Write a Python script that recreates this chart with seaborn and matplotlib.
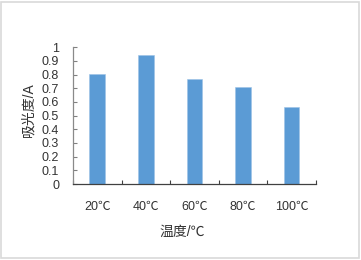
import pandas as pd
import numpy as np
import matplotlib
matplotlib.use('Agg')
import matplotlib.pyplot as plt
import seaborn as sns
from matplotlib.patches import Rectangle

temps = ['20℃', '40℃', '60℃', '80℃', '100℃']
absorb = [0.805, 0.945, 0.765, 0.71, 0.56]
yticks = [0, 0.1, 0.2, 0.3, 0.4, 0.5, 0.6, 0.7, 0.8, 0.9, 1]
ytick_labels = ['0', '0.1', '0.2', '0.3', '0.4', '0.5', '0.6', '0.7', '0.8', '0.9', '1']

sns.set_style('white')
plt.rcParams['font.family'] = ['Liberation Sans', 'Noto Sans CJK SC', 'DejaVu Sans']

df = pd.DataFrame({'温度': temps, '吸光度': absorb})

fig = plt.figure(figsize=(3.61, 2.6), dpi=100)
ax = fig.add_axes([0.2022, 0.2923, 0.6723, 0.5257])
sns.barplot(data=df, x='温度', y='吸光度', color='#5B9BD5', width=0.32,
            saturation=1, edgecolor='#9dc3e6', linewidth=0.4, ax=ax)

ax.set_ylim(0, 1)
ax.set_xlim(-0.5, 4.5)
ax.set_yticks(yticks)
ax.set_yticklabels(ytick_labels)
ax.set_xticks(np.arange(-0.5, 5, 1), minor=True)
ax.tick_params(axis='x', which='major', length=0, pad=12, labelsize=9, labelcolor='#333333')
ax.tick_params(axis='x', which='minor', direction='in', length=3, width=0.8, color='#404040', bottom=True)
ax.tick_params(axis='y', direction='in', length=3, width=0.8, color='#808080', left=True,
               pad=10, labelsize=9, labelcolor='#333333')

for s in ['top', 'right']:
    ax.spines[s].set_visible(False)
ax.spines['left'].set_color('#8a8a8a')
ax.spines['left'].set_linewidth(0.9)
ax.spines['bottom'].set_color('#404040')
ax.spines['bottom'].set_linewidth(0.9)

ax.set_xlabel('')
ax.set_ylabel('')
fig.text(0.08, 0.577, '吸光度/A', rotation=90, ha='center', va='center',
         fontsize=10, color='#333333')
fig.text(0.504, 0.108, '温度/℃', ha='center', va='center', fontsize=10, color='#333333')

fig.patches.append(Rectangle((0.004, 0.008), 0.99, 0.985, transform=fig.transFigure,
                             fill=False, edgecolor='#d9d9d9', linewidth=1.2))

fig.savefig('out.png', dpi=100, facecolor='white')
